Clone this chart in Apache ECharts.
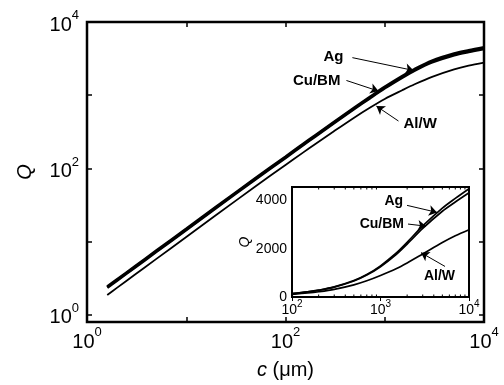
<!DOCTYPE html>
<html>
<head>
<meta charset="utf-8">
<script src="https://cdn.jsdelivr.net/npm/echarts@6/dist/echarts.min.js"></script>
<style>
  html, body { margin: 0; background: #fff; }
  #chart { width: 504px; height: 385px; }
</style>
</head>
<body>
<div id="chart"></div>
<script>
// crack size c (um) and Q for the three metal systems
const cValues  = [1.6, 2, 3, 5, 10, 20, 50, 100, 150, 200, 300, 500, 700, 1000, 1500, 2000, 3000, 5000, 7000, 10000];
const agValues = [2.42, 3.02, 4.52, 7.5, 14.9, 29.7, 73.5, 144, 214, 283, 418, 680, 930, 1290, 1810, 2260, 2940, 3680, 4080, 4480];
const cuValues = [2.36, 2.94, 4.41, 7.31, 14.5, 29.0, 71.7, 140.4, 208.7, 275.9, 407.5, 662, 905, 1252, 1753, 2187, 2837, 3547, 3929, 4310];
const alValues = [1.87, 2.34, 3.5, 5.82, 11.6, 23.1, 57.2, 111.5, 164.5, 216, 315, 502, 670, 890, 1170, 1410, 1780, 2250, 2530, 2780];

// inset: minor ticks of the log x axis
const insetMinorTicks = [200, 300, 400, 500, 600, 700, 800, 900, 2000, 3000, 4000, 5000, 6000, 7000, 8000, 9000];

// annotations: [text, textAnchor, arrowFrom, arrowTo, side]
const mainNotes = [
  ['Ag',    [392, 3360], [472, 3260], [1950, 2180], 'left'],
  ['Cu/BM', [366, 1590], [411, 1590], [863, 1140],  'left'],
  ['Al/W',  [1510, 405], [1375, 444], [824, 710],   'right']
];
const insetNotes = [
  ['Ag',    [1845, 3955], [1995, 3790], [4350, 3500], 'left'],
  ['Cu/BM', [1890, 3017], [2046, 3017], [3265, 2930], 'left'],
  ['Al/W',  [3020, 856],  [5360, 1264], [2870, 1834], 'right']
];

const font = "'Liberation Sans', Arial, sans-serif";

function pairs(ys, minC) {
  return cValues.map((c, i) => [c, ys[i]]).filter(d => d[0] >= minC);
}

function powLabel(v, evenOnly) {
  const e = Math.log10(v);
  const r = Math.round(e);
  if (Math.abs(e - r) > 1e-6) return '';
  if (evenOnly && r % 2 !== 0) return '';
  return '{b|10}{s|' + r + '}';
}

function logAxis(grid, pos, min, max, opts) {
  return Object.assign({
    type: 'log', logBase: 10, gridIndex: grid, position: pos, min: min, max: max,
    axisLine: { show: false },
    axisTick: { show: true, inside: true, length: 5, lineStyle: { color: '#000', width: 1.5 } },
    splitLine: { show: false },
    axisLabel: { show: false }
  }, opts || {});
}

const mainRich = {
  b: { fontSize: 20, fontFamily: font, color: '#000', lineHeight: 26, verticalAlign: 'bottom' },
  s: { fontSize: 13, fontFamily: font, color: '#000', verticalAlign: 'top' }
};
const insetRich = {
  b: { fontSize: 14, fontFamily: font, color: '#000', lineHeight: 18, verticalAlign: 'bottom' },
  s: { fontSize: 10, fontFamily: font, color: '#000', verticalAlign: 'top' }
};

function notes(list, size) {
  return {
    markLine: {
      silent: true, symbol: ['none', 'arrow'], symbolSize: 8,
      lineStyle: { color: '#000', width: 1, type: 'solid' },
      label: { show: false },
      data: list.map(n => [{ coord: n[2] }, { coord: n[3] }])
    },
    markPoint: {
      silent: true, symbol: 'circle', symbolSize: 0,
      data: list.map(n => ({
        coord: n[1],
        label: { show: true, position: n[4], distance: 1, formatter: n[0],
                 fontFamily: font, fontWeight: 'bold', fontSize: size, color: '#000' }
      }))
    }
  };
}

function line(name, data, width, xi, yi, extra) {
  return Object.assign({
    name: name, type: 'line', xAxisIndex: xi, yAxisIndex: yi, data: data,
    showSymbol: false, smooth: 0.3, silent: true,
    lineStyle: { color: '#000', width: width }
  }, extra || {});
}

const chart = echarts.init(document.getElementById('chart'));

const option = {
  animation: false,
  backgroundColor: '#fff',
  grid: [
    { left: 87, top: 22, right: 20, bottom: 60, show: true, borderColor: '#000', borderWidth: 2.5, backgroundColor: 'transparent' },
    { left: 292, top: 187, right: 35, bottom: 88, show: true, borderColor: '#000', borderWidth: 2, backgroundColor: '#fff', z: 5 }
  ],
  xAxis: [
    logAxis(0, 'bottom', 1, 10000, {
      name: '{i|c} (μm)', nameLocation: 'middle', nameGap: 38,
      nameTextStyle: { fontFamily: font, fontSize: 20, color: '#000',
        rich: { i: { fontFamily: font, fontSize: 20, fontStyle: 'italic', color: '#000' } } },
      axisLabel: { show: true, margin: 4, showMinLabel: true, showMaxLabel: true,
        formatter: v => powLabel(v, true), rich: mainRich }
    }),
    logAxis(0, 'top', 1, 10000),
    logAxis(1, 'bottom', 100, 10000, {
      axisTick: { show: true, inside: true, length: 4, lineStyle: { color: '#000', width: 1 } },
      axisLabel: { show: true, margin: 2, showMinLabel: true, showMaxLabel: true,
        formatter: v => powLabel(v, false), rich: insetRich }
    }),
    logAxis(1, 'top', 100, 10000, {
      axisTick: { show: true, inside: true, length: 4, lineStyle: { color: '#000', width: 1 } }
    })
  ],
  yAxis: [
    logAxis(0, 'left', 0.8, 10000, {
      name: 'Q', nameLocation: 'middle', nameGap: 52, nameRotate: 90,
      nameTextStyle: { fontFamily: font, fontSize: 20, fontStyle: 'italic', color: '#000' },
      axisLabel: { show: true, margin: 8, formatter: v => powLabel(v, true), rich: mainRich }
    }),
    logAxis(0, 'right', 0.8, 10000),
    {
      type: 'value', gridIndex: 1, position: 'left', min: 0, max: 4550, interval: 2000,
      name: 'Q', nameLocation: 'middle', nameGap: 40, nameRotate: 90,
      nameTextStyle: { fontFamily: font, fontSize: 14, fontStyle: 'italic', color: '#000' },
      axisLine: { show: false }, splitLine: { show: false },
      axisTick: { show: true, inside: true, length: 4, lineStyle: { color: '#000', width: 1 } },
      axisLabel: { margin: 5, fontFamily: font, fontSize: 14, color: '#000',
        formatter: v => (v % 2000 === 0 ? String(v) : '') }
    },
    {
      type: 'value', gridIndex: 1, position: 'right', min: 0, max: 4550, interval: 2000,
      axisLine: { show: false }, splitLine: { show: false }, axisLabel: { show: false },
      axisTick: { show: true, inside: true, length: 4, lineStyle: { color: '#000', width: 1 } }
    }
  ],
  series: [
    line('Al/W main', pairs(alValues, 0), 1.8, 0, 0),
    line('Cu/BM main', pairs(cuValues, 0), 3, 0, 0),
    line('Ag main', pairs(agValues, 0), 3, 0, 0, notes(mainNotes, 15)),
    line('Al/W inset', pairs(alValues, 100), 1.7, 2, 2, { z: 6 }),
    line('Cu/BM inset', pairs(cuValues, 100), 1.7, 2, 2, { z: 6 }),
    line('Ag inset', pairs(agValues, 100), 1.7, 2, 2, Object.assign({ z: 6 }, notes(insetNotes, 14))),
    {
      type: 'custom', xAxisIndex: 2, yAxisIndex: 2, silent: true, z: 7,
      data: insetMinorTicks.map(v => [v]),
      renderItem: function (params, api) {
        const bot = api.coord([api.value(0), 0]);
        const top = api.coord([api.value(0), 4550]);
        const st = { stroke: '#000', lineWidth: 1 };
        return { type: 'group', children: [
          { type: 'line', shape: { x1: bot[0], y1: bot[1], x2: bot[0], y2: bot[1] - 2.5 }, style: st },
          { type: 'line', shape: { x1: top[0], y1: top[1], x2: top[0], y2: top[1] + 2.5 }, style: st }
        ] };
      }
    }
  ]
};

chart.setOption(option);
</script>
</body>
</html>
